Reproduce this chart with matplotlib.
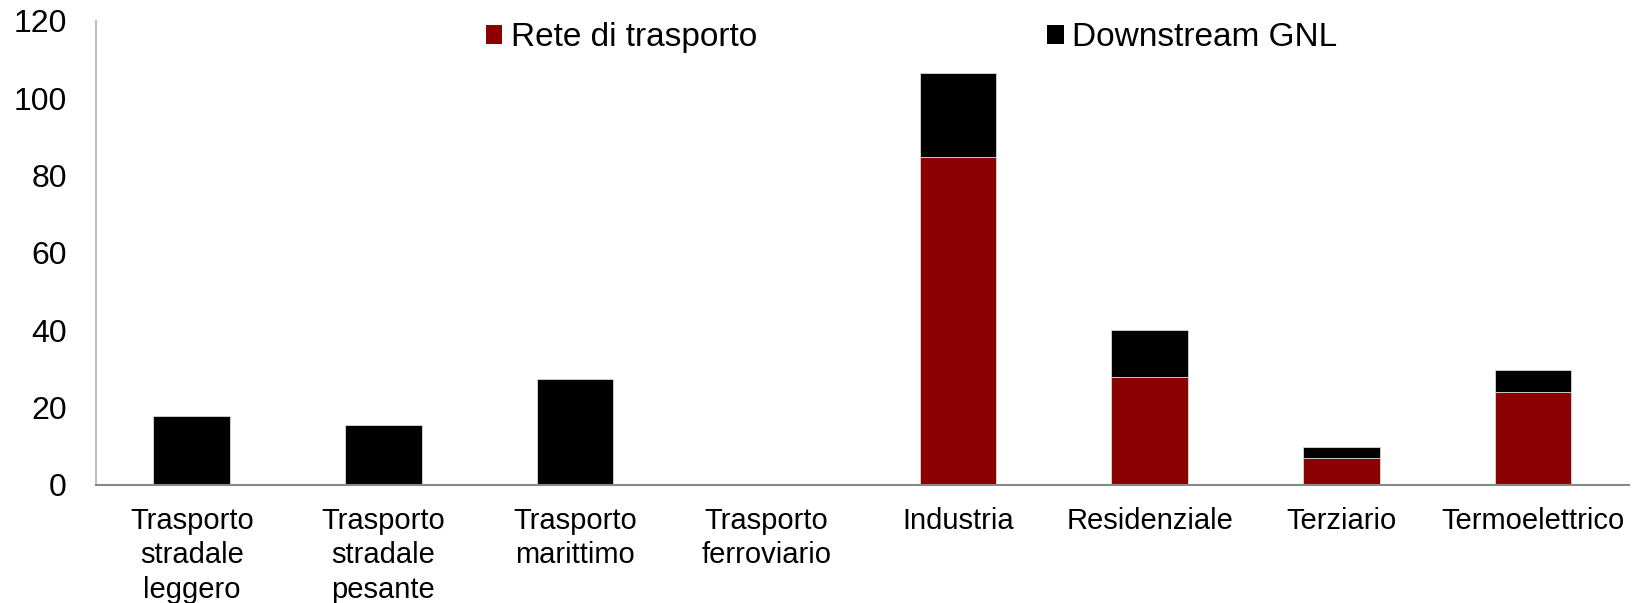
import numpy as np
import matplotlib
matplotlib.use("Agg")
import matplotlib.pyplot as plt

plt.rcParams["font.family"] = ["Liberation Sans", "DejaVu Sans"]

categories = [
    "Trasporto\nstradale\nleggero",
    "Trasporto\nstradale\npesante",
    "Trasporto\nmarittimo",
    "Trasporto\nferroviario",
    "Industria",
    "Residenziale",
    "Terziario",
    "Termoelettrico",
]
rete = [0.0, 0.0, 0.0, 0.0, 84.9, 27.9, 6.9, 24.0]
downstream = [17.7, 15.5, 27.4, 0.0, 21.7, 12.0, 2.9, 5.6]
yticks = [0, 20, 40, 60, 80, 100, 120]

RED = "#8b0000"
BLACK = "#000000"

fig = plt.figure(figsize=(16.32, 6.03), dpi=100)
ax = fig.add_axes([0.0588, 0.1965, 0.9392, 0.7687])

x = np.arange(len(categories))
ax.bar(x, rete, width=0.4, color=RED, edgecolor="#d9d9d9", linewidth=0.6,
       label="Rete di trasporto")
ax.bar(x, downstream, width=0.4, bottom=rete, color=BLACK, edgecolor="#d9d9d9",
       linewidth=0.6, label="Downstream GNL")

ax.set_xlim(-0.5, len(categories) - 0.5)
ax.set_ylim(0, 120)
ax.set_yticks(yticks)
ax.set_yticklabels([str(v) for v in yticks], fontsize=23)
ax.set_xticks(x)
ax.set_xticklabels(categories, fontsize=21, linespacing=1.3)
ax.tick_params(axis="both", length=0)
ax.tick_params(axis="y", pad=21)
ax.tick_params(axis="x", pad=16)

for s in ["top", "right"]:
    ax.spines[s].set_visible(False)
ax.spines["left"].set_color("#bfbfbf")
ax.spines["left"].set_linewidth(1.5)
ax.spines["bottom"].set_color("#888888")
ax.spines["bottom"].set_linewidth(1.5)

leg = ax.legend(loc="upper center", bbox_to_anchor=(0.532, 1.062), ncol=2,
                frameon=False, fontsize=24, handlelength=0.5, handleheight=0.5,
                handletextpad=0.25, columnspacing=8.7)
for h in leg.legend_handles:
    h.set_edgecolor("none")

fig.savefig("out.png", dpi=100)
